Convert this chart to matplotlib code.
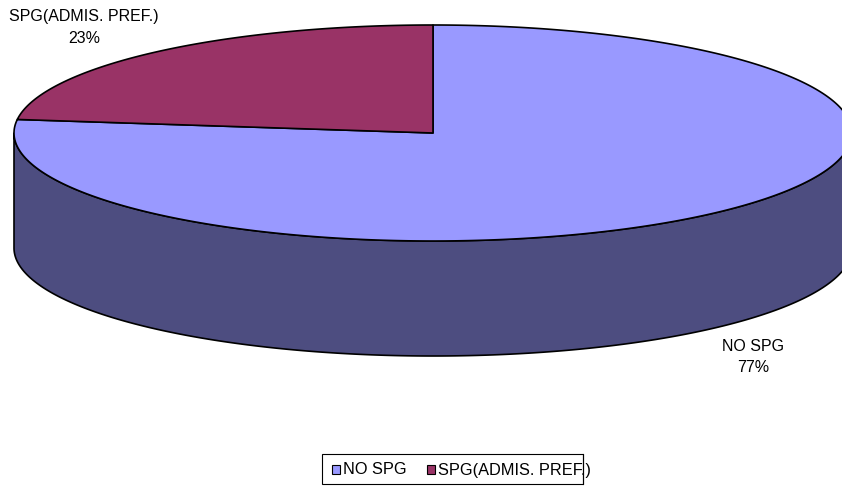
import numpy as np
import matplotlib.pyplot as plt
from matplotlib.patches import Polygon, Rectangle

plt.rcParams['font.family'] = ['Liberation Sans', 'DejaVu Sans']

labels = ["NO SPG", "SPG(ADMIS. PREF.)"]
values = [77, 23]
top_colors = ["#9999FF", "#993366"]
side_colors = ["#4D4D80", "#4D1A33"]

# pie geometry in pixels
cx, cy = 433, 133
rx, ry = 419, 108
depth = 115

fig = plt.figure(figsize=(8.42, 4.87), dpi=100)
ax = fig.add_axes([0, 0, 1, 1])
ax.set_xlim(0, 842)
ax.set_ylim(487, 0)
ax.axis('off')


def ell(t, dy=0):
  return cx + rx*np.cos(t), cy - ry*np.sin(t) + dy


total = sum(values)
start = 90.0
spans = []
for v in values:
  end = start - 360.0*v/total
  spans.append((end, start))
  start = end

# side walls (front half only)
for (a1, a2), sc in zip(spans, side_colors):
  t = np.radians(np.linspace(a1, a2, 800))
  front = np.sin(t) <= 0
  idx = np.flatnonzero(front)
  if len(idx) == 0:
    continue
  groups = np.split(idx, np.flatnonzero(np.diff(idx) > 1) + 1)
  for g in groups:
    tt = t[g]
    x1, y1 = ell(tt)
    x2, y2 = ell(tt[::-1], depth)
    pts = np.column_stack([np.r_[x1, x2], np.r_[y1, y2]])
    ax.add_patch(Polygon(pts, closed=True, facecolor=sc, edgecolor='black', lw=1.2, joinstyle='round'))

# top faces
for (a1, a2), tc in zip(spans, top_colors):
  t = np.radians(np.linspace(a1, a2, 600))
  x, y = ell(t)
  pts = np.column_stack([np.r_[cx, x], np.r_[cy, y]])
  ax.add_patch(Polygon(pts, closed=True, facecolor=tc, edgecolor='black', lw=1.2, joinstyle='round'))

# data labels
label_pos = [(753, 357), (84, 27.5)]
for lab, v, (lx, ly) in zip(labels, values, label_pos):
  ax.text(lx, ly, f"{lab}\n{round(100*v/total)}%", ha='center', va='center',
          fontsize=11.5, linespacing=1.55, color='black')

# legend
ax.add_patch(Rectangle((322, 454), 261, 30, facecolor='white', edgecolor='black', lw=0.8, zorder=3))
item_x = [332, 427]
for lab, tc, x in zip(labels, top_colors, item_x):
  ax.add_patch(Rectangle((x, 465), 8, 9, facecolor=tc, edgecolor='black', lw=0.8, zorder=4))
  ax.text(x + 11, 470, lab, ha='left', va='center', fontsize=11.8, zorder=4)

# the frame line runs over the last label in the original
ax.plot([583, 583], [454, 484], color='black', lw=0.8, zorder=5)

fig.savefig("out.png", dpi=100)
